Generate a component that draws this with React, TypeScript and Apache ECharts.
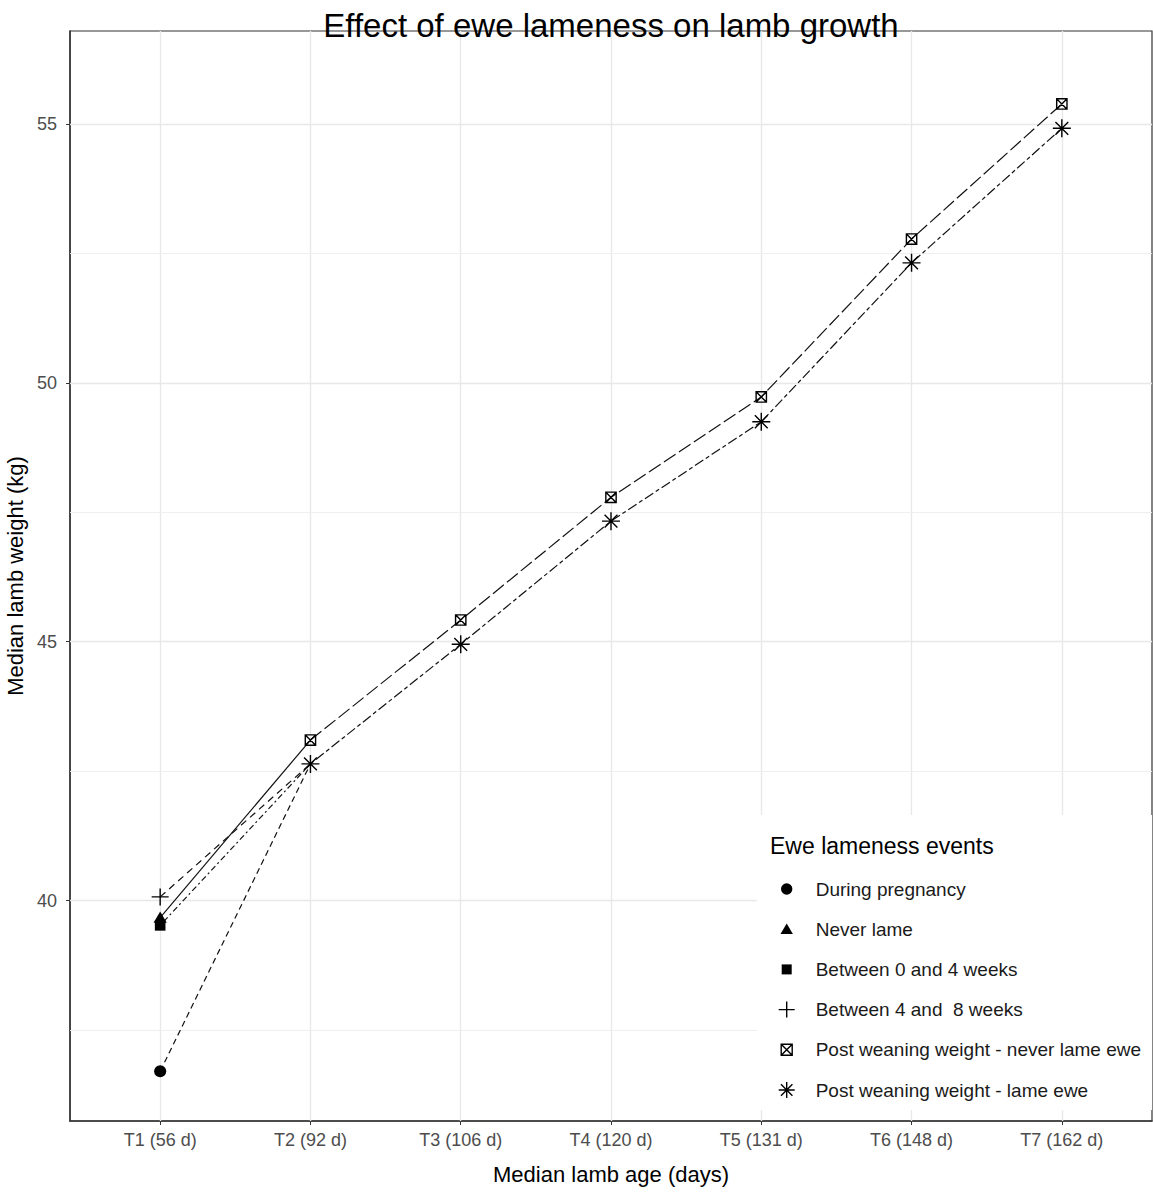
import React, { useEffect, useRef } from "react";
import * as echarts from "echarts";

// ---- data ----
const categories = ["T1 (56 d)", "T2 (92 d)", "T3 (106 d)", "T4 (120 d)", "T5 (131 d)", "T6 (148 d)", "T7 (162 d)"];
const yTicks = [40, 45, 50, 55];
const yMinorGrid = [37.5, 42.5, 47.5, 52.5];

const groupNames = ["During pregnancy", "Never lame", "Between 0 and 4 weeks", "Between 4 and  8 weeks"];
const groupT1Values = [36.7, 39.67, 39.52, 40.07];
// which post-weaning series each T1 line joins at T2
const groupJoins = ["lame", "never", "lame", "lame"];

const postNeverName = "Post weaning weight - never lame ewe";
const postLameName = "Post weaning weight - lame ewe";
const postNeverLame = [43.1, 45.42, 47.79, 49.73, 52.78, 55.39]; // T2..T7
const postLame = [42.64, 44.95, 47.33, 49.25, 52.32, 54.92]; // T2..T7

// ---- styles ----
const FONT = "Liberation Sans, Arial, sans-serif";
const ICON_CIRCLE = "path://M0,0M16,16M2.3,8A5.7,5.7,0,1,0,13.7,8A5.7,5.7,0,1,0,2.3,8Z";
const ICON_TRIANGLE = "path://M0,0M16,16M8,2.2L14.2,12.9L1.8,12.9Z";
const ICON_SQUARE = "path://M0,0M16,16M3,3L13,3L13,13L3,13Z";
const ICON_PLUS = "path://M0,8L16,8M8,0L8,16";
const ICON_BOXX = "path://M0,0M16,16M2.5,2.5L13.5,2.5L13.5,13.5L2.5,13.5ZM2.5,2.5L13.5,13.5M2.5,13.5L13.5,2.5";
const ICON_STAR = "path://M0,8L16,8M8,0L8,16M2.3,2.3L13.7,13.7M2.3,13.7L13.7,2.3";

const filled = { color: "#000", borderWidth: 0 };
const stroked = { color: "rgba(0,0,0,0)", borderColor: "#000", borderWidth: 1.4 };

const groupIcons = [ICON_CIRCLE, ICON_TRIANGLE, ICON_SQUARE, ICON_PLUS];
const groupItemStyles = [filled, filled, filled, stroked];
const groupDash: any[] = [[6, 4], "solid", [2, 3, 6, 3], [7, 5]];

export default function App() {
  const ref = useRef<HTMLDivElement>(null);

  useEffect(() => {
    document.body.style.margin = "0";
    const chart = echarts.init(ref.current!, null, { renderer: "svg" });

    const joinArr = (j: string) => (j === "never" ? postNeverLame : postLame);

    const groupSeries = groupNames.map((name, i) => ({
      type: "line",
      name,
      z: 3,
      symbol: groupIcons[i],
      symbolSize: 17,
      itemStyle: groupItemStyles[i],
      lineStyle: { color: "#111", width: 1.2, type: groupDash[i] },
      data: [
        [0, groupT1Values[i]],
        { value: [1, joinArr(groupJoins[i])[0]], symbol: "none" },
      ],
    }));

    const majorGrid = { color: "#e8e8e8", width: 1.4, type: "solid" };
    const minorGrid = { color: "#ededed", width: 0.9, type: "solid" };

    const gridLines = [
      ...categories.map((_, i) => ({ xAxis: i, lineStyle: majorGrid })),
      ...yTicks.map((v) => ({ yAxis: v, lineStyle: majorGrid })),
      ...yMinorGrid.map((v) => ({ yAxis: v, lineStyle: minorGrid })),
    ];

    const postSeries = [
      {
        type: "line",
        name: postNeverName,
        z: 3,
        symbol: ICON_BOXX,
        symbolSize: 15,
        itemStyle: stroked,
        lineStyle: { color: "#111", width: 1.2, type: [14, 4] },
        data: postNeverLame.map((v, k) => [k + 1, v]),
        markLine: {
          silent: true,
          z: 1,
          symbol: ["none", "none"],
          label: { show: false },
          emphasis: { disabled: true },
          animation: false,
          data: gridLines,
        },
      },
      {
        type: "line",
        name: postLameName,
        z: 3,
        symbol: ICON_STAR,
        symbolSize: 18,
        itemStyle: stroked,
        lineStyle: { color: "#111", width: 1.2, type: [4, 3, 10, 3] },
        data: postLame.map((v, k) => [k + 1, v]),
      },
    ];

    const legendIcons = [...groupIcons, ICON_BOXX, ICON_STAR];
    const legendStyles = [...groupItemStyles, stroked, stroked];
    const legendNames = [...groupNames, postNeverName, postLameName];

    chart.setOption({
      animation: false,
      textStyle: { fontFamily: FONT },
      graphic: [
        {
          type: "rect",
          z: 2,
          silent: true,
          shape: { x: 757, y: 815, width: 395, height: 295 },
          style: { fill: "#fff" },
        },
        {
          type: "text",
          z: 100,
          x: 611,
          y: 25,
          style: {
            text: "Effect of ewe lameness on lamb growth",
            font: `33px ${FONT}`,
            fill: "#000",
            align: "center",
            verticalAlign: "middle",
          },
        },
        {
          type: "text",
          z: 100,
          x: 770,
          y: 846,
          style: {
            text: "Ewe lameness events",
            font: `23px ${FONT}`,
            fill: "#000",
            align: "left",
            verticalAlign: "middle",
          },
        },
      ],
      grid: {
        left: 70,
        right: 1,
        top: 31,
        bottom: 72,
        show: true,
        borderColor: "#333",
        borderWidth: 1.2,
        backgroundColor: "#fff",
        outerBoundsMode: "none",
        containLabel: false,
      },
      xAxis: {
        type: "value",
        min: -0.6,
        max: 6.6,
        axisLine: { show: true, onZero: false, lineStyle: { color: "#333", width: 1.5 } },
        axisTick: { show: true, length: 4, customValues: categories.map((_, i) => i), lineStyle: { color: "#333" } },
        axisLabel: {
          customValues: categories.map((_, i) => i),
          formatter: (v: number) => categories[Math.round(v)] ?? "",
          fontSize: 18,
          color: "#4d4d4d",
          margin: 10,
          fontFamily: FONT,
        },
        splitLine: { show: false },
        name: "Median lamb age (days)",
        nameLocation: "middle",
        nameGap: 42,
        nameTextStyle: { fontSize: 22, color: "#000", fontFamily: FONT },
      },
      yAxis: {
        type: "value",
        min: 35.74,
        max: 56.8,
        axisLine: { show: true, onZero: false, lineStyle: { color: "#333", width: 1.5 } },
        axisTick: { show: true, length: 4, customValues: yTicks, lineStyle: { color: "#333" } },
        axisLabel: {
          customValues: yTicks,
          fontSize: 18,
          color: "#4d4d4d",
          margin: 13,
          fontFamily: FONT,
        },
        splitLine: { show: false },
        name: "Median lamb weight (kg)",
        nameLocation: "middle",
        nameGap: 36,
        nameTextStyle: { fontSize: 22, color: "#000", fontFamily: FONT },
      },
      legend: {
        orient: "vertical",
        left: 778,
        top: 879,
        padding: 0,
        itemWidth: 48,
        itemHeight: 16,
        itemGap: 20.2,
        selectedMode: false,
        textStyle: { fontSize: 19, lineHeight: 20, color: "#1a1a1a", fontFamily: FONT },
        data: legendNames.map((name, i) => ({
          name,
          icon: legendIcons[i],
          itemStyle: legendStyles[i],
        })),
      },
      series: [...groupSeries, ...postSeries],
    });

    return () => chart.dispose();
  }, []);

  return <div ref={ref} style={{ width: 1153, height: 1193 }} />;
}
